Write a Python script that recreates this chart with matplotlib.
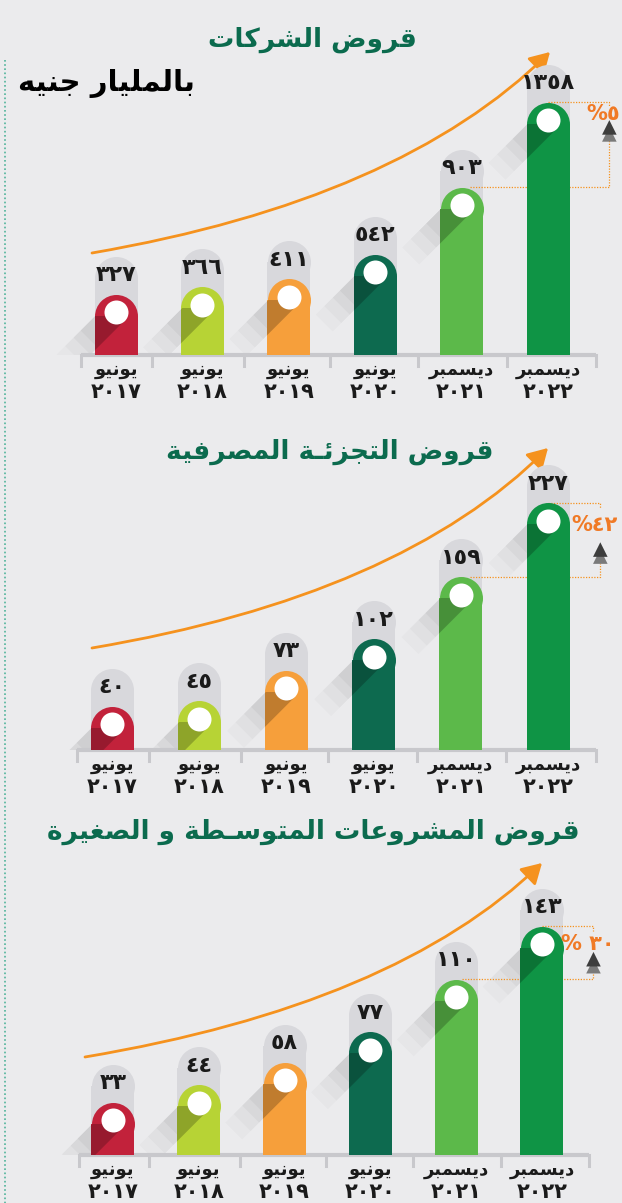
import numpy as np
import matplotlib
matplotlib.use("Agg")
import matplotlib.pyplot as plt
from matplotlib.patches import Polygon, Rectangle, FancyArrowPatch
from matplotlib.path import Path

# ---- data ----
months = ["يونيو", "يونيو", "يونيو", "يونيو", "ديسمبر", "ديسمبر"]
years = [2017, 2018, 2019, 2020, 2021, 2022]
corporate = [327, 366, 411, 542, 903, 1358]
retail = [40, 45, 73, 102, 159, 227]
sme = [33, 44, 58, 77, 110, 143]
growth_labels = ["%٥", "%٤٢", "% ٣٠"]
titles = ["قروض الشركات", "قروض التجزئـة المصرفية",
          "قروض المشروعات المتوسـطة و الصغيرة"]
unit_label = "بالمليار جنيه"

bar_colors = ["#c2223b", "#b7d335", "#f69f3b", "#0d6a4f", "#5cb94a", "#0f9445"]
BG = "#ebebed"
PILL = "#d8d8dc"
ORANGE = "#f5921e"
TITLE_GREEN = "#0b6b4e"

# ---- minimal arabic shaping (presentation forms, visual order) ----
FORMS = {
    "\u0626": ("\uFE89", "\uFE8A", "\uFE8B", "\uFE8C"),
    "\u0627": ("\uFE8D", "\uFE8E", None, None),
    "\u0628": ("\uFE8F", "\uFE90", "\uFE91", "\uFE92"),
    "\u0629": ("\uFE93", "\uFE94", None, None),
    "\u062A": ("\uFE95", "\uFE96", "\uFE97", "\uFE98"),
    "\u062C": ("\uFE9D", "\uFE9E", "\uFE9F", "\uFEA0"),
    "\u062F": ("\uFEA9", "\uFEAA", None, None),
    "\u0631": ("\uFEAD", "\uFEAE", None, None),
    "\u0632": ("\uFEAF", "\uFEB0", None, None),
    "\u0633": ("\uFEB1", "\uFEB2", "\uFEB3", "\uFEB4"),
    "\u0634": ("\uFEB5", "\uFEB6", "\uFEB7", "\uFEB8"),
    "\u0635": ("\uFEB9", "\uFEBA", "\uFEBB", "\uFEBC"),
    "\u0636": ("\uFEBD", "\uFEBE", "\uFEBF", "\uFEC0"),
    "\u0637": ("\uFEC1", "\uFEC2", "\uFEC3", "\uFEC4"),
    "\u0639": ("\uFEC9", "\uFECA", "\uFECB", "\uFECC"),
    "\u063A": ("\uFECD", "\uFECE", "\uFECF", "\uFED0"),
    "\u0640": ("\u0640", "\u0640", "\u0640", "\u0640"),
    "\u0641": ("\uFED1", "\uFED2", "\uFED3", "\uFED4"),
    "\u0642": ("\uFED5", "\uFED6", "\uFED7", "\uFED8"),
    "\u0643": ("\uFED9", "\uFEDA", "\uFEDB", "\uFEDC"),
    "\u0644": ("\uFEDD", "\uFEDE", "\uFEDF", "\uFEE0"),
    "\u0645": ("\uFEE1", "\uFEE2", "\uFEE3", "\uFEE4"),
    "\u0646": ("\uFEE5", "\uFEE6", "\uFEE7", "\uFEE8"),
    "\u0647": ("\uFEE9", "\uFEEA", "\uFEEB", "\uFEEC"),
    "\u0648": ("\uFEED", "\uFEEE", None, None),
    "\u064A": ("\uFEF1", "\uFEF2", "\uFEF3", "\uFEF4"),
}


def shape(text):
    units = []
    i = 0
    while i < len(text):
        if text[i] == "\u0644" and i + 1 < len(text) and text[i + 1] == "\u0627":
            units.append("LA")
            i += 2
        else:
            units.append(text[i])
            i += 1

    def joins_next(u):
        return u != "LA" and u in FORMS and FORMS[u][2] is not None

    def joins_prev(u):
        return u == "LA" or (u in FORMS and FORMS[u][1] is not None)

    out = []
    for k, u in enumerate(units):
        p = k > 0 and joins_next(units[k - 1]) and joins_prev(u)
        n = k + 1 < len(units) and joins_next(u) and joins_prev(units[k + 1])
        if u == "LA":
            out.append("\uFEFC" if p else "\uFEFB")
        elif u in FORMS:
            f = FORMS[u]
            out.append(f[3] if (p and n) else f[1] if p else f[2] if n else f[0])
        else:
            out.append(u)
    return "".join(reversed(out))


def ar_digits(n):
    return str(n).translate(str.maketrans("0123456789", "٠١٢٣٤٥٦٧٨٩"))


# ---- layout (pixels) ----
W, H = 622, 1203
PT = 0.72  # points per pixel at 100 dpi
BAR_PX = 43
PILL_PX = 38
DOT_PX = 24

panels = [
    dict(values=corporate, c0=116, step=86.4, base=355, ppu=0.186,
         title_xy=(312, 40), arrow=[(92, 253), (400, 200), (550, 52)],
         brk_x=5.71, lo_x=4.1, txt_dy=12, tri_dy=28),
    dict(values=retail, c0=112, step=87.2, base=750, ppu=1.09,
         title_xy=(330, 452), arrow=[(92, 648), (400, 596), (548, 448)],
         brk_x=5.6, lo_x=4.1, txt_dy=22, tri_dy=50),
    dict(values=sme, c0=113, step=85.8, base=1155, ppu=1.6,
         title_xy=(313, 832), arrow=[(85, 1057), (395, 1005), (542, 863)],
         brk_x=5.6, lo_x=4.07, txt_dy=18, tri_dy=36),
]

plt.rcParams["font.family"] = ["DejaVu Sans"]
fig = plt.figure(figsize=(W / 100, H / 100), dpi=100)
fig.patch.set_facecolor(BG)

ov = fig.add_axes([0, 0, 1, 1], zorder=0)
ov.set_xlim(0, W)
ov.set_ylim(H, 0)
ov.axis("off")

# left dotted rule and unit label
ov.plot([5, 5], [60, H], color="#4fb39a", lw=1.2, ls=(0, (1, 1.5)))
ov.text(106, 83, shape(unit_label), ha="center", va="center",
        fontsize=21, weight="bold", color="black")

for pi, P in enumerate(panels):
    vals = P["values"]
    step, ppu = P["step"], P["ppu"]
    top_px = 330
    ax = fig.add_axes([(P["c0"] - step / 2) / W, (H - P["base"]) / H,
                       step * 6 / W, top_px / H], zorder=1)
    ax.set_xlim(-0.5, 5.5)
    ax.set_ylim(0, top_px / ppu)
    ax.axis("off")
    ux = lambda px: px / step
    uy = lambda px: px / ppu

    # title + trend arrow
    tx, ty = P["title_xy"]
    ov.text(tx, ty, shape(titles[pi]), ha="center", va="center",
            fontsize=19, weight="bold", color=TITLE_GREEN)
    path = Path(P["arrow"], [Path.MOVETO, Path.CURVE3, Path.CURVE3])
    ov.add_patch(FancyArrowPatch(path=path, arrowstyle="-|>,head_length=0.55,head_width=0.32",
                                 mutation_scale=22, color=ORANGE, lw=2))

    ground = Rectangle((-2, 0), 10, 1e5, transform=ax.transData)
    bw = ux(BAR_PX)
    r = uy(BAR_PX / 2)
    cap = (BAR_PX * PT) ** 2
    for i, v in enumerate(vals):
        # grey pill behind
        ax.bar(i, v + uy(PILL_PX) - r, bw, color=PILL, zorder=1, clip_on=False)
        ax.scatter(i, v + uy(PILL_PX) - r, s=cap, color=PILL, lw=0, zorder=1, clip_on=False)
        # coloured bar with rounded top
        bars = ax.bar(i, v - r, bw, color=bar_colors[i], zorder=3, clip_on=False)
        ax.scatter(i, v - r, s=cap, color=bar_colors[i], lw=0, zorder=3, clip_on=False)

        # long shadow from the dot
        cy = v - uy(18)
        d = np.array([-1, -1]) / np.sqrt(2)
        nrm = np.array([-1, 1]) / np.sqrt(2)
        for L, a, inside in [(260, 0.22, True), (38, 0.035, False), (48, 0.03, False),
                             (60, 0.025, False), (72, 0.02, False)]:
            pts = []
            for s_, l_ in [(1, 0), (-1, 0), (-1, L), (1, L)]:
                px = s_ * DOT_PX / 2 * nrm + l_ * d
                pts.append((i + ux(px[0]), cy + uy(px[1])))
            poly = Polygon(pts, closed=True, color="black", alpha=a, lw=0,
                           zorder=3.5 if inside else 2)
            ax.add_patch(poly)
            poly.set_clip_path(bars[0] if inside else ground)

        # white dot
        ax.scatter(i, cy, s=(DOT_PX * PT) ** 2, color="white", lw=0, zorder=4, clip_on=False)
        # value label
        ax.annotate(ar_digits(v), (i, v), xytext=(0, 19 * PT), textcoords="offset points",
                    ha="center", va="center", fontsize=16, weight="bold", color="#1a1a1a",
                    annotation_clip=False)
        # category labels
        ax.annotate(shape(months[i]), (i, 0), xytext=(0, -15 * PT), textcoords="offset points",
                    ha="center", va="center", fontsize=13, weight="bold", color="#1a1a1a",
                    annotation_clip=False)
        ax.annotate(ar_digits(years[i]), (i, 0), xytext=(0, -37 * PT), textcoords="offset points",
                    ha="center", va="center", fontsize=15, weight="bold", color="#1a1a1a",
                    annotation_clip=False)

    # baseline with separators
    ax.plot([-0.4, 5.55], [0, 0], color="#c8c8cc", lw=3, zorder=2, clip_on=False,
            solid_capstyle="butt")
    for sx in [-0.4, 0.42, 1.48, 2.48, 3.5, 4.52, 5.55]:
        ax.plot([sx, sx], [0, -uy(11)], color="#c8c8cc", lw=2.2, clip_on=False)

    # growth bracket between last two bars
    v4, v5 = vals[4], vals[5]
    bx = P["brk_x"]
    dot_kw = dict(color=ORANGE, lw=0.9, ls=(0, (1, 1.2)), clip_on=False, zorder=2)
    ax.plot([P["lo_x"], bx, bx], [v4, v4, v5 - uy(P["tri_dy"] + 10)], **dot_kw)
    ax.plot([5.0, bx, bx], [v5, v5, v5 - uy(5)], **dot_kw)
    ax.annotate(growth_labels[pi], (bx - ux(6), v5), xytext=(0, -P["txt_dy"] * PT),
                textcoords="offset points", ha="center", va="center",
                fontsize=15, weight="bold", color="#f07a26", annotation_clip=False)
    ax.scatter([bx, bx], [v5 - uy(P["tri_dy"] + 4), v5 - uy(P["tri_dy"] - 3)],
               marker="^", s=[110, 110], color=["#7a7a7a", "#3d3d3d"], lw=0,
               zorder=5, clip_on=False)

fig.savefig("out.png", dpi=100, facecolor=BG)
